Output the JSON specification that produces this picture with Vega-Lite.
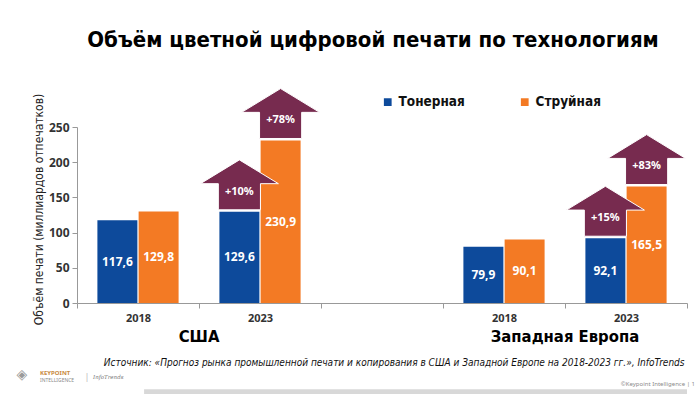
{
  "$schema": "https://vega.github.io/schema/vega-lite/v6.json",
  "width": 610,
  "height": 176,
  "autosize": {"type": "none"},
  "padding": {"left": 77, "top": 127, "right": 13, "bottom": 91},
  "background": "white",
  "title": {
    "text": "Объём цветной цифровой печати по технологиям",
    "font": "DejaVu Sans Condensed",
    "fontSize": 22,
    "fontWeight": "bold",
    "color": "#000",
    "anchor": "middle",
    "frame": "group",
    "dx": -9,
    "offset": 35
  },
  "config": {
    "view": {"stroke": null},
    "locale": {"number": {"decimal": ",", "thousands": " ", "grouping": [3], "currency": ["", ""]}}
  },
  "resolve": {"axis": {"x": "independent", "y": "independent"}},
  "datasets": {
    "bars": [
      {"slot": "US2018", "tech": "Тонерная", "value": 117.6, "growth": null},
      {"slot": "US2018", "tech": "Струйная", "value": 129.8, "growth": null},
      {"slot": "US2023", "tech": "Тонерная", "value": 129.6, "growth": "+10%"},
      {"slot": "US2023", "tech": "Струйная", "value": 230.9, "growth": "+78%"},
      {"slot": "EU2018", "tech": "Тонерная", "value": 79.9, "growth": null},
      {"slot": "EU2018", "tech": "Струйная", "value": 90.1, "growth": null},
      {"slot": "EU2023", "tech": "Тонерная", "value": 92.1, "growth": "+15%"},
      {"slot": "EU2023", "tech": "Струйная", "value": 165.5, "growth": "+83%"}
    ]
  },
  "layer": [
    {
      "data": {"values": [{"t": "footer"}]},
      "mark": {"type": "rule", "color": "#d8d8d8", "strokeWidth": 5},
      "encoding": {
        "x": {"datum": "US2018", "bandPosition": 0.55, "axis": null},
        "x2": {"datum": "EU2023", "bandPosition": 1},
        "y": {"datum": -126, "type": "quantitative", "axis": null}
      }
    },
    {
      "data": {"name": "bars"},
      "mark": {"type": "bar"},
      "encoding": {
        "x": {
          "field": "slot",
          "type": "nominal",
          "scale": {"domain": ["US2018", "US2023", "gap", "EU2018", "EU2023"], "paddingInner": 0, "paddingOuter": 0},
          "axis": {
            "title": "Источник: «Прогноз рынка промышленной печати и копирования в США и Западной Европе на 2018-2023 гг.», InfoTrends",
            "titleFont": "DejaVu Sans Condensed",
            "titleFontStyle": "italic",
            "titleFontWeight": "normal",
            "titleFontSize": 10,
            "titleColor": "#111",
            "titleX": 607,
            "titleY": 59,
            "titleAlign": "right",
            "titleBaseline": "middle",
            "labelExpr": "datum.value == 'US2018' || datum.value == 'EU2018' ? '2018' : (datum.value == 'US2023' || datum.value == 'EU2023' ? '2023' : '')",
            "labelAngle": 0,
            "labelFont": "Noto Sans",
            "labelFontWeight": "bold",
            "labelFontSize": 11,
            "labelColor": "#333",
            "labelPadding": 4,
            "tickBand": "extent",
            "tickSize": 5,
            "tickColor": "#999",
            "domainColor": "#999"
          }
        },
        "xOffset": {
          "field": "tech",
          "type": "nominal",
          "scale": {"domain": ["Тонерная", "Струйная"], "paddingOuter": 0.495, "paddingInner": 0.03}
        },
        "y": {
          "field": "value",
          "type": "quantitative",
          "stack": null,
          "scale": {"domain": [0, 250], "nice": false},
          "axis": {
            "title": "Объём печати (миллиардов отпечатков)",
            "titleFont": "DejaVu Sans Condensed",
            "titleFontWeight": "normal",
            "titleFontSize": 12,
            "titleColor": "#222",
            "titleX": -39,
            "titleY": 82,
            "titleBaseline": "middle",
            "values": [0, 50, 100, 150, 200, 250],
            "labelOverlap": false,
            "grid": false,
            "labelFont": "Noto Sans",
            "labelFontWeight": "bold",
            "labelFontSize": 12,
            "labelColor": "#333",
            "labelPadding": 3,
            "tickSize": 5,
            "tickColor": "#999",
            "domainColor": "#999"
          }
        },
        "color": {
          "field": "tech",
          "type": "nominal",
          "scale": {"domain": ["Тонерная", "Струйная"], "range": ["#0d4a9b", "#f37a24"]},
          "legend": {
            "title": null,
            "orient": "none",
            "legendX": 304,
            "legendY": -32,
            "direction": "horizontal",
            "symbolType": "square",
            "symbolSize": 60,
            "symbolStrokeWidth": 0,
            "labelFont": "DejaVu Sans Condensed",
            "labelFontWeight": "bold",
            "labelFontSize": 13.5,
            "labelColor": "#111",
            "labelOffset": 4,
            "columnPadding": 53
          }
        }
      }
    },
    {
      "data": {"name": "bars"},
      "mark": {"type": "text", "color": "white", "font": "Noto Sans", "fontWeight": "bold", "fontSize": 12, "baseline": "middle"},
      "encoding": {
        "x": {"field": "slot", "type": "nominal", "axis": null},
        "xOffset": {"field": "tech", "type": "nominal"},
        "y": {"field": "value", "type": "quantitative", "stack": "zero", "bandPosition": 0.5, "axis": null},
        "detail": {"field": "tech"},
        "text": {"field": "value", "type": "quantitative", "format": ".1f"}
      }
    },
    {
      "data": {"name": "bars"},
      "transform": [{"filter": "datum.growth != null"}],
      "mark": {
        "type": "point",
        "shape": "M -0.54 -0.05 L 0.54 -0.05 L 0.54 -0.72 L 1 -0.72 L 0 -1.33 L -1 -0.72 L -0.54 -0.72 Z",
        "filled": true,
        "color": "#772b4f",
        "opacity": 1,
        "size": 6084,
        "stroke": "white",
        "strokeWidth": 1
      },
      "encoding": {
        "x": {"field": "slot", "type": "nominal", "axis": null},
        "xOffset": {"field": "tech", "type": "nominal"},
        "y": {"field": "value", "type": "quantitative", "axis": null}
      }
    },
    {
      "data": {"name": "bars"},
      "transform": [{"filter": "datum.growth != null"}],
      "mark": {"type": "text", "color": "white", "font": "Noto Sans", "fontWeight": "bold", "fontSize": 11, "baseline": "middle", "dy": -20},
      "encoding": {
        "x": {"field": "slot", "type": "nominal", "axis": null},
        "xOffset": {"field": "tech", "type": "nominal"},
        "y": {"field": "value", "type": "quantitative", "axis": null},
        "text": {"field": "growth"}
      }
    },
    {
      "data": {"values": [{"region": "США", "slot": "US2023"}, {"region": "Западная Европа", "slot": "EU2023"}]},
      "mark": {"type": "text", "font": "DejaVu Sans Condensed", "fontWeight": "bold", "fontSize": 16.5, "color": "#000", "baseline": "middle"},
      "encoding": {
        "x": {"field": "slot", "type": "nominal", "bandPosition": 0, "axis": null},
        "y": {"datum": -48, "type": "quantitative", "axis": null},
        "text": {"field": "region"}
      }
    },
    {
      "data": {"values": [{"t": "◈"}]},
      "mark": {"type": "text", "font": "DejaVu Sans", "fontSize": 14, "color": "#9a9a9a", "align": "center", "baseline": "middle", "dx": -55},
      "encoding": {
        "x": {"datum": "US2018", "bandPosition": 0, "axis": null},
        "y": {"datum": -102, "type": "quantitative", "axis": null},
        "text": {"field": "t"}
      }
    },
    {
      "data": {"values": [{"t": "KEYPOINT"}]},
      "mark": {"type": "text", "font": "Noto Sans", "fontWeight": "bold", "fontSize": 6, "color": "#c98a3e", "align": "left", "baseline": "middle", "dx": -37},
      "encoding": {
        "x": {"datum": "US2018", "bandPosition": 0, "axis": null},
        "y": {"datum": -100, "type": "quantitative", "axis": null},
        "text": {"field": "t"}
      }
    },
    {
      "data": {"values": [{"t": "INTELLIGENCE"}]},
      "mark": {"type": "text", "font": "Noto Sans", "fontSize": 5, "color": "#8a8a8a", "align": "left", "baseline": "middle", "dx": -37},
      "encoding": {
        "x": {"datum": "US2018", "bandPosition": 0, "axis": null},
        "y": {"datum": -109, "type": "quantitative", "axis": null},
        "text": {"field": "t"}
      }
    },
    {
      "data": {"values": [{"t": "|"}]},
      "mark": {"type": "text", "font": "Noto Sans", "fontSize": 9, "color": "#bbbbbb", "align": "center", "baseline": "middle", "dx": 10},
      "encoding": {
        "x": {"datum": "US2018", "bandPosition": 0, "axis": null},
        "y": {"datum": -105, "type": "quantitative", "axis": null},
        "text": {"field": "t"}
      }
    },
    {
      "data": {"values": [{"t": "InfoTrends"}]},
      "mark": {"type": "text", "font": "DejaVu Serif", "fontStyle": "italic", "fontSize": 5.5, "color": "#777777", "align": "left", "baseline": "middle", "dx": 16},
      "encoding": {
        "x": {"datum": "US2018", "bandPosition": 0, "axis": null},
        "y": {"datum": -105, "type": "quantitative", "axis": null},
        "text": {"field": "t"}
      }
    },
    {
      "data": {"values": [{"t": "©Keypoint Intelligence   |   1"}]},
      "mark": {"type": "text", "font": "Noto Sans", "fontSize": 6, "color": "#8a8a8a", "align": "right", "baseline": "middle", "dx": 8},
      "encoding": {
        "x": {"datum": "EU2023", "bandPosition": 1, "axis": null},
        "y": {"datum": -115, "type": "quantitative", "axis": null},
        "text": {"field": "t"}
      }
    }
  ]
}
